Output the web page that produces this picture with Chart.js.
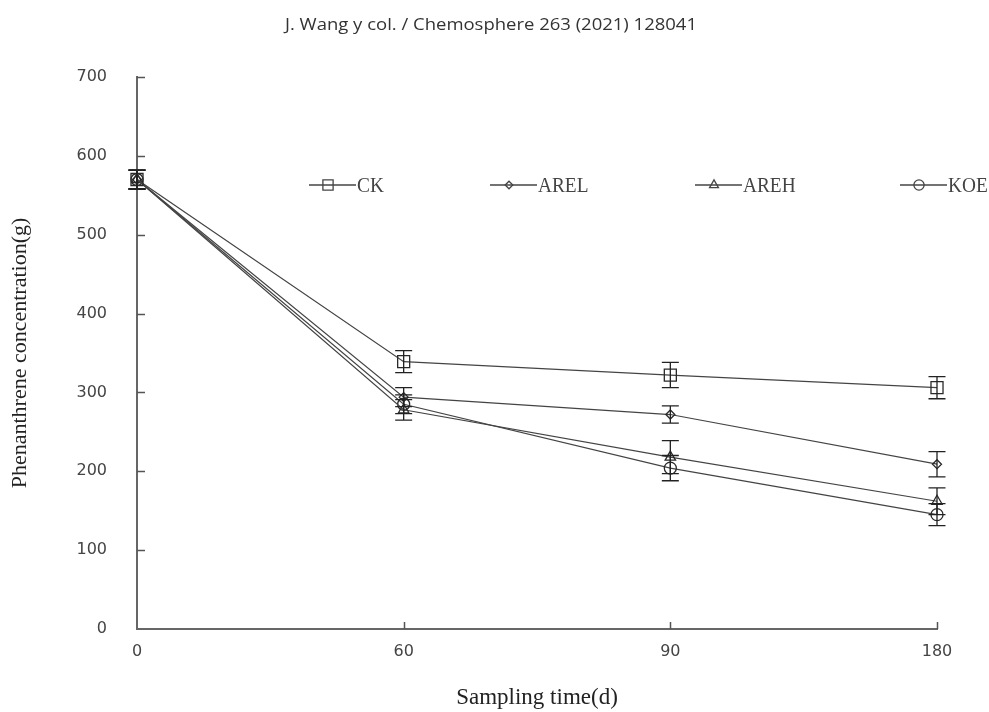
<!DOCTYPE html>
<html>
<head>
<meta charset="utf-8">
<script src="https://cdn.jsdelivr.net/npm/chart.js@4.4.1/dist/chart.umd.min.js"></script>
<style>
  html, body { margin: 0; padding: 0; background: #fff; }
  #grafico { width: 989px; height: 712px; }
</style>
</head>
<body>
<div id="grafico"><canvas id="fenantrenoCanvas"></canvas></div>
<script>
// dias de muestreo (eje x categórico)
const diasMuestreo = ['0', '60', '90', '180'];
const ticksY = [0, 100, 200, 300, 400, 500, 600, 700];

// concentraciones
const valoresCK = [570, 339, 322, 306];
const valoresAREL = [570, 294, 272, 209];
const valoresAREH = [570, 278, 218, 162];
const valoresKOE = [570, 285, 204, 145];

// barras de error (+/-)
const errorCK = [12, 14, 16, 14];
const errorAREL = [12, 12, 11, 16];
const errorAREH = [12, 13, 21, 17];
const errorKOE = [12, 12, 16, 14];

const encabezado = 'J. Wang y col. / Chemosphere 263 (2021) 128041';

const series = [
    { nombre: 'CK', datos: valoresCK, error: errorCK, punto: 'rect', radio: 8.5 },
    { nombre: 'AREL', datos: valoresAREL, error: errorAREL, punto: 'rectRot', radio: 4.5 },
    { nombre: 'AREH', datos: valoresAREH, error: errorAREH, punto: 'triangle', radio: 6 },
    { nombre: 'KOE', datos: valoresKOE, error: errorKOE, punto: 'circle', radio: 6 }
];

const colorLinea = '#444';

// dibuja barras de error con las escalas del grafico
const pluginErrores = {
    id: 'barrasError',
    afterDatasetsDraw(chart) {
        const ctx = chart.ctx;
        const y = chart.scales.y;
        ctx.save();
        ctx.strokeStyle = '#222';
        ctx.lineWidth = 1.3;
        chart.data.datasets.forEach((ds, i) => {
            const meta = chart.getDatasetMeta(i);
            meta.data.forEach((pt, j) => {
                const v = ds.data[j];
                const e = ds.errores[j];
                const yTop = y.getPixelForValue(v + e);
                const yBot = y.getPixelForValue(v - e);
                ctx.beginPath();
                ctx.moveTo(pt.x, yTop); ctx.lineTo(pt.x, yBot);
                ctx.moveTo(pt.x - 8.5, yTop); ctx.lineTo(pt.x + 8.5, yTop);
                ctx.moveTo(pt.x - 8.5, yBot); ctx.lineTo(pt.x + 8.5, yBot);
                ctx.stroke();
            });
        });
        ctx.restore();
    }
};

// marcas de los ejes hacia adentro
const pluginMarcas = {
    id: 'marcasEjes',
    afterDraw(chart) {
        const ctx = chart.ctx;
        const area = chart.chartArea;
        const x = chart.scales.x;
        const y = chart.scales.y;
        ctx.save();
        ctx.strokeStyle = '#555';
        ctx.lineWidth = 1.5;
        ctx.beginPath();
        ticksY.forEach(t => {
            if (t === 0) return;
            const py = Math.round(y.getPixelForValue(t)) + 0.5;
            ctx.moveTo(area.left, py); ctx.lineTo(area.left + 8, py);
        });
        diasMuestreo.forEach((d, i) => {
            if (i === 0) return;
            const px = Math.round(x.getPixelForValue(i)) + 0.5;
            ctx.moveTo(px, area.bottom); ctx.lineTo(px, area.bottom - 7);
        });
        ctx.stroke();
        ctx.restore();
    }
};

// encabezado de la pagina (texto de la revista)
const pluginEncabezado = {
    id: 'encabezado',
    afterDraw(chart) {
        const ctx = chart.ctx;
        ctx.save();
        ctx.font = '16px "Open Sans"';
        const ancho = ctx.measureText(encabezado).width;
        ctx.translate(491, 25);
        ctx.scale(412 / ancho, 1);
        ctx.fillStyle = '#333';
        ctx.textAlign = 'center';
        ctx.textBaseline = 'middle';
        ctx.fillText(encabezado, 0, 0);
        ctx.restore();
    }
};

// leyenda dentro del area del grafico
const pluginLeyenda = {
    id: 'leyendaInterna',
    afterDraw(chart) {
        const ctx = chart.ctx;
        const posX = [309, 490, 695, 900];
        const posY = 185;
        ctx.save();
        chart.data.datasets.forEach((ds, i) => {
            const x0 = posX[i];
            ctx.strokeStyle = colorLinea;
            ctx.lineWidth = 1.3;
            ctx.beginPath();
            ctx.moveTo(x0, posY); ctx.lineTo(x0 + 47, posY);
            ctx.stroke();
            ctx.fillStyle = 'rgba(0,0,0,0)';
            Chart.helpers.drawPoint(ctx, {
                pointStyle: ds.pointStyle,
                radius: ds.pointRadius * 0.85,
                borderWidth: 1.3,
                rotation: 0
            }, x0 + 19, posY);
            ctx.save();
            ctx.translate(x0 + 48, posY);
            ctx.scale(0.92, 1);
            ctx.fillStyle = '#444';
            ctx.font = '21px "Liberation Serif"';
            ctx.textBaseline = 'middle';
            ctx.fillText(ds.label, 0, 1);
            ctx.restore();
        });
        ctx.restore();
    }
};

function crearGrafico() {
    const ctx = document.getElementById('fenantrenoCanvas').getContext('2d');
    return new Chart(ctx, {
        type: 'line',
        data: {
            labels: diasMuestreo,
            datasets: series.map(s => ({
                label: s.nombre,
                data: s.datos,
                errores: s.error,
                borderColor: colorLinea,
                borderWidth: 1.25,
                pointStyle: s.punto,
                pointRadius: s.radio,
                pointBorderColor: '#2a2a2a',
                pointBackgroundColor: 'rgba(0,0,0,0)',
                pointBorderWidth: 1.3,
                tension: 0,
                clip: false
            }))
        },
        options: {
            responsive: true,
            maintainAspectRatio: false,
            animation: false,
            layout: { padding: { top: 77, left: 0, right: 52, bottom: 0 } },
            plugins: {
                legend: { display: false },
                tooltip: { enabled: false },
                title: { display: false }
            },
            scales: {
                x: {
                    type: 'category',
                    offset: false,
                    grid: { display: false, drawTicks: false },
                    border: { display: true, color: '#666', width: 2 },
                    ticks: {
                        color: '#444',
                        padding: 13,
                        font: { family: '"DejaVu Sans"', size: 16 }
                    },
                    title: {
                        display: true,
                        text: 'Sampling time(d)',
                        color: '#222',
                        font: { family: '"Liberation Serif"', size: 23 },
                        padding: { top: 0, bottom: 0 }
                    },
                    afterFit: scale => { scale.height = 83; }
                },
                y: {
                    min: 0,
                    max: 700,
                    grid: { display: false, drawTicks: false },
                    border: { display: true, color: '#666', width: 2 },
                    afterBuildTicks: axis => { axis.ticks = ticksY.map(v => ({ value: v })); },
                    ticks: {
                        color: '#444',
                        padding: 30,
                        font: { family: '"DejaVu Sans"', size: 16 }
                    },
                    title: {
                        display: true,
                        text: 'Phenanthrene concentration(g)',
                        color: '#222',
                        font: { family: '"Liberation Serif"', size: 22 },
                        padding: { top: 7, bottom: 0 }
                    },
                    afterFit: scale => { scale.width = 137; }
                }
            }
        },
        plugins: [pluginErrores, pluginMarcas, pluginEncabezado, pluginLeyenda]
    });
}

crearGrafico();
</script>
</body>
</html>
